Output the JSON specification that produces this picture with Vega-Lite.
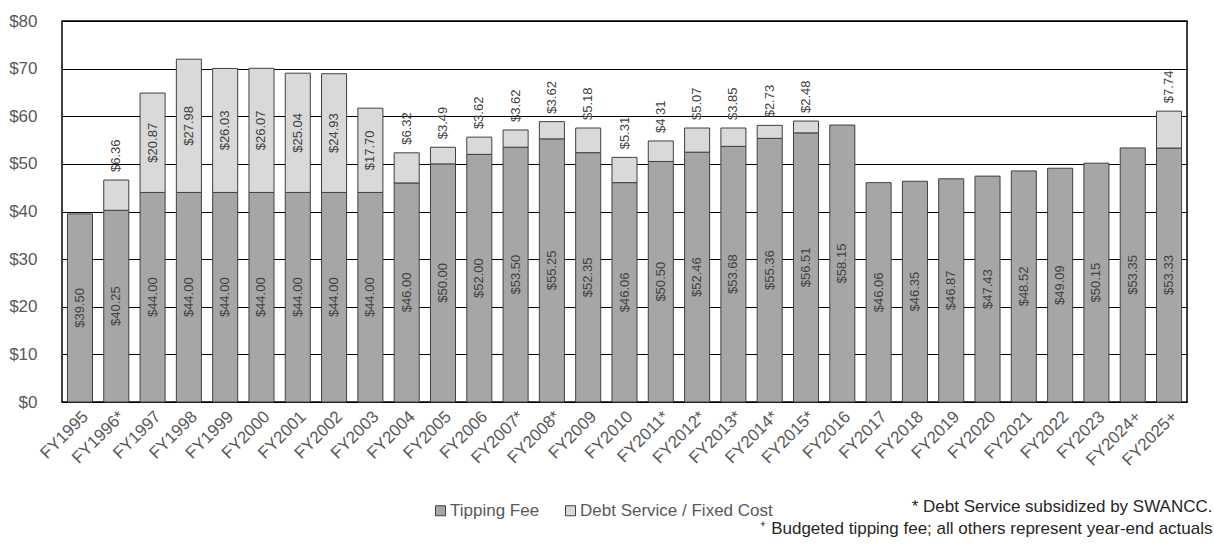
{
  "$schema": "https://vega.github.io/schema/vega-lite/v6.json",
  "width": 1125,
  "height": 381,
  "autosize": "none",
  "padding": {"left": 62, "top": 21, "right": 27, "bottom": 144},
  "background": "white",
  "config": {
    "view": {"stroke": "#000000", "strokeWidth": 1.5},
    "font": "Liberation Sans, Arial, sans-serif"
  },
  "data": {
    "values": [
      {"fy": "FY1995", "cost": "Tipping Fee", "amount": 39.50},
      {"fy": "FY1996*", "cost": "Tipping Fee", "amount": 40.25},
      {"fy": "FY1996*", "cost": "Debt Service / Fixed Cost", "amount": 6.36},
      {"fy": "FY1997", "cost": "Tipping Fee", "amount": 44.00},
      {"fy": "FY1997", "cost": "Debt Service / Fixed Cost", "amount": 20.87},
      {"fy": "FY1998", "cost": "Tipping Fee", "amount": 44.00},
      {"fy": "FY1998", "cost": "Debt Service / Fixed Cost", "amount": 27.98},
      {"fy": "FY1999", "cost": "Tipping Fee", "amount": 44.00},
      {"fy": "FY1999", "cost": "Debt Service / Fixed Cost", "amount": 26.03},
      {"fy": "FY2000", "cost": "Tipping Fee", "amount": 44.00},
      {"fy": "FY2000", "cost": "Debt Service / Fixed Cost", "amount": 26.07},
      {"fy": "FY2001", "cost": "Tipping Fee", "amount": 44.00},
      {"fy": "FY2001", "cost": "Debt Service / Fixed Cost", "amount": 25.04},
      {"fy": "FY2002", "cost": "Tipping Fee", "amount": 44.00},
      {"fy": "FY2002", "cost": "Debt Service / Fixed Cost", "amount": 24.93},
      {"fy": "FY2003", "cost": "Tipping Fee", "amount": 44.00},
      {"fy": "FY2003", "cost": "Debt Service / Fixed Cost", "amount": 17.70},
      {"fy": "FY2004", "cost": "Tipping Fee", "amount": 46.00},
      {"fy": "FY2004", "cost": "Debt Service / Fixed Cost", "amount": 6.32},
      {"fy": "FY2005", "cost": "Tipping Fee", "amount": 50.00},
      {"fy": "FY2005", "cost": "Debt Service / Fixed Cost", "amount": 3.49},
      {"fy": "FY2006", "cost": "Tipping Fee", "amount": 52.00},
      {"fy": "FY2006", "cost": "Debt Service / Fixed Cost", "amount": 3.62},
      {"fy": "FY2007*", "cost": "Tipping Fee", "amount": 53.50},
      {"fy": "FY2007*", "cost": "Debt Service / Fixed Cost", "amount": 3.62},
      {"fy": "FY2008*", "cost": "Tipping Fee", "amount": 55.25},
      {"fy": "FY2008*", "cost": "Debt Service / Fixed Cost", "amount": 3.62},
      {"fy": "FY2009", "cost": "Tipping Fee", "amount": 52.35},
      {"fy": "FY2009", "cost": "Debt Service / Fixed Cost", "amount": 5.18},
      {"fy": "FY2010", "cost": "Tipping Fee", "amount": 46.06},
      {"fy": "FY2010", "cost": "Debt Service / Fixed Cost", "amount": 5.31},
      {"fy": "FY2011*", "cost": "Tipping Fee", "amount": 50.50},
      {"fy": "FY2011*", "cost": "Debt Service / Fixed Cost", "amount": 4.31},
      {"fy": "FY2012*", "cost": "Tipping Fee", "amount": 52.46},
      {"fy": "FY2012*", "cost": "Debt Service / Fixed Cost", "amount": 5.07},
      {"fy": "FY2013*", "cost": "Tipping Fee", "amount": 53.68},
      {"fy": "FY2013*", "cost": "Debt Service / Fixed Cost", "amount": 3.85},
      {"fy": "FY2014*", "cost": "Tipping Fee", "amount": 55.36},
      {"fy": "FY2014*", "cost": "Debt Service / Fixed Cost", "amount": 2.73},
      {"fy": "FY2015*", "cost": "Tipping Fee", "amount": 56.51},
      {"fy": "FY2015*", "cost": "Debt Service / Fixed Cost", "amount": 2.48},
      {"fy": "FY2016", "cost": "Tipping Fee", "amount": 58.15},
      {"fy": "FY2017", "cost": "Tipping Fee", "amount": 46.06},
      {"fy": "FY2018", "cost": "Tipping Fee", "amount": 46.35},
      {"fy": "FY2019", "cost": "Tipping Fee", "amount": 46.87},
      {"fy": "FY2020", "cost": "Tipping Fee", "amount": 47.43},
      {"fy": "FY2021", "cost": "Tipping Fee", "amount": 48.52},
      {"fy": "FY2022", "cost": "Tipping Fee", "amount": 49.09},
      {"fy": "FY2023", "cost": "Tipping Fee", "amount": 50.15},
      {"fy": "FY2024+", "cost": "Tipping Fee", "amount": 53.35},
      {"fy": "FY2025+", "cost": "Tipping Fee", "amount": 53.33},
      {"fy": "FY2025+", "cost": "Debt Service / Fixed Cost", "amount": 7.74}
    ]
  },
  "transform": [
    {"stack": "amount", "groupby": ["fy"], "sort": [{"field": "cost", "order": "descending"}], "as": ["lo", "hi"]}
  ],
  "encoding": {
    "x": {
      "field": "fy", "type": "nominal", "sort": null,
      "scale": {"paddingInner": 0.31, "paddingOuter": 0.15},
      "axis": {
        "labelAngle": -45, "labelFontSize": 17, "labelColor": "#595959",
        "labelPadding": 6, "ticks": false, "domain": false,
        "title": ["* Debt Service subsidized by SWANCC.", "⁺ Budgeted tipping fee; all others represent year-end actuals"],
        "titleX": 1150, "titleY": 109, "titleAlign": "right", "titleAnchor": "end",
        "titleBaseline": "alphabetic", "titleFontSize": 17, "titleFontWeight": "normal",
        "titleColor": "#262626", "titleLineHeight": 22
      }
    }
  },
  "layer": [
    {
      "mark": {"type": "bar", "stroke": "#404040", "strokeWidth": 1},
      "encoding": {
        "y": {
          "field": "lo", "type": "quantitative",
          "scale": {"domain": [0, 80]},
          "axis": {
            "values": [0, 10, 20, 30, 40, 50, 60, 70, 80], "format": "$.0f",
            "grid": true, "gridColor": "#000000", "gridWidth": 1,
            "ticks": false, "domain": false, "labelPadding": 25,
            "labelFontSize": 17, "labelColor": "#595959", "title": null
          }
        },
        "y2": {"field": "hi"},
        "color": {
          "field": "cost", "type": "nominal",
          "scale": {"domain": ["Tipping Fee", "Debt Service / Fixed Cost"], "range": ["#a6a6a6", "#d9d9d9"]},
          "legend": {
            "orient": "none", "legendX": 370, "legendY": 481, "direction": "horizontal",
            "title": null, "symbolType": "square", "symbolSize": 100,
            "symbolStrokeColor": "#404040", "symbolStrokeWidth": 1,
            "labelFontSize": 17, "labelColor": "#595959", "labelOffset": 1,
            "labelLimit": 400, "columnPadding": 22
          }
        }
      }
    },
    {
      "transform": [{"filter": "datum.cost === 'Tipping Fee'"}],
      "mark": {"type": "text", "angle": 270, "align": "center", "baseline": "middle", "fontSize": 13, "color": "#404040"},
      "encoding": {
        "y": {"field": "amount", "type": "quantitative", "scale": {"domain": [0, 160]}, "axis": null},
        "text": {"field": "amount", "type": "quantitative", "format": "$.2f"}
      }
    },
    {
      "transform": [{"filter": "datum.cost !== 'Tipping Fee' && datum.amount > 10"}],
      "mark": {"type": "text", "angle": 270, "align": "center", "baseline": "middle", "fontSize": 13, "color": "#404040"},
      "encoding": {
        "y": {"field": "amount", "type": "quantitative", "scale": {"domain": [-88, 72]}, "axis": null},
        "text": {"field": "amount", "type": "quantitative", "format": "$.2f"}
      }
    },
    {
      "transform": [{"filter": "datum.cost !== 'Tipping Fee' && datum.amount < 10"}],
      "mark": {"type": "text", "angle": 270, "align": "left", "baseline": "middle", "dx": 8, "fontSize": 13, "color": "#404040"},
      "encoding": {
        "y": {"field": "hi", "type": "quantitative", "scale": {"domain": [0, 80]}, "axis": null},
        "text": {"field": "amount", "type": "quantitative", "format": "$.2f"}
      }
    }
  ],
  "resolve": {"scale": {"y": "independent"}}
}
